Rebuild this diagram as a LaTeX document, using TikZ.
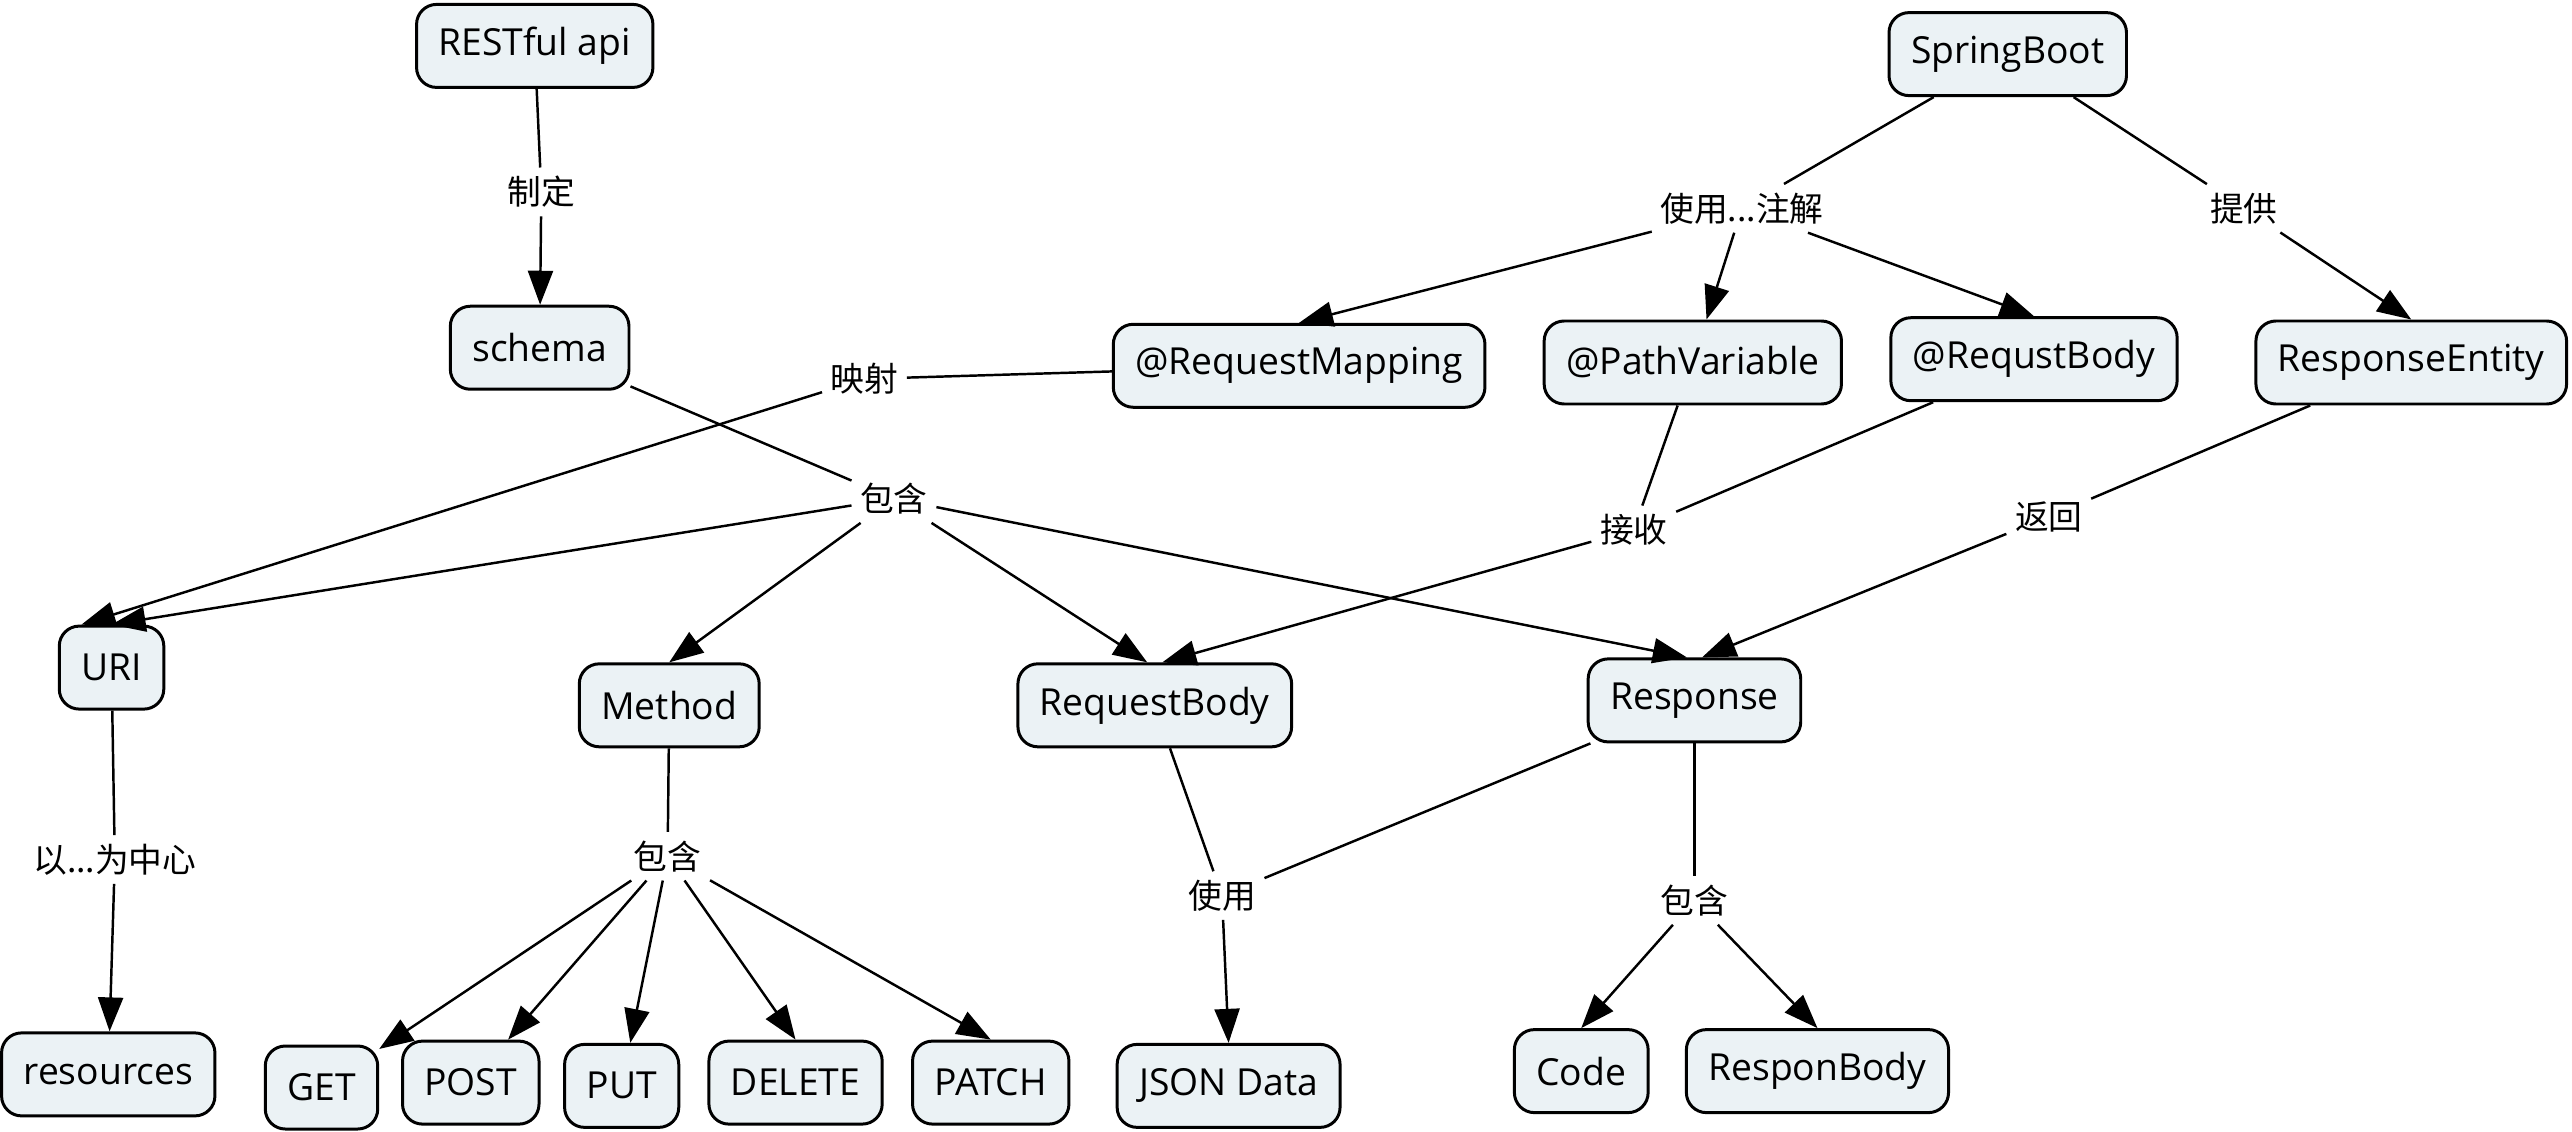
\documentclass[tikz,border=0pt]{standalone}
\usepackage{fontspec}
\setmainfont{Open Sans}
\newfontfamily\cjk{Noto Sans CJK SC}
\usetikzlibrary{arrows.meta}
\definecolor{conceptfill}{RGB}{235,242,245}

\begin{document}
\begin{tikzpicture}[x=0.0164cm, y=-0.0164cm,
    concept/.style={draw, line width=0.85pt, rounded corners=0.2cm, fill=conceptfill,
      minimum height=0.83cm, inner xsep=0.22cm, font=\fontsize{10.6}{12}\selectfont},
    phrase/.style={inner sep=0.08cm, font=\cjk\fontsize{9.6}{11}\selectfont},
    link/.style={line width=0.7pt},
    tolink/.style={line width=0.7pt, -{Triangle[length=0.34cm, width=0.25cm]}}]
  \useasboundingbox (0,0) rectangle (1568,690);

  % concepts
  \node[concept] (restful) at (326,28) {RESTful api};
  \node[concept] (schema) at (329,212) {schema};
  \node[concept] (spring) at (1224,33) {SpringBoot};
  \node[concept] (reqmap) at (792,223) {@RequestMapping};
  \node[concept] (pathvar) at (1032,221) {@PathVariable};
  \node[concept] (reqbodyann) at (1240,219) {@RequstBody};
  \node[concept] (entity) at (1470,221) {ResponseEntity};
  \node[concept] (uri) at (68,407) {URI};
  \node[concept] (method) at (408,430) {Method};
  \node[concept] (reqbody) at (704,430) {RequestBody};
  \node[concept] (response) at (1033,427) {Response};
  \node[concept] (resources) at (66,655) {resources};
  \node[concept] (get) at (196,663) {GET};
  \node[concept] (post) at (287,660) {POST};
  \node[concept] (put) at (379,662) {PUT};
  \node[concept] (delete) at (485,660) {DELETE};
  \node[concept] (patch) at (604,660) {PATCH};
  \node[concept] (json) at (749,662) {JSON Data};
  \node[concept] (code) at (964,653) {Code};
  \node[concept] (responbody) at (1108,653) {ResponBody};

  % linking phrases
  \node[phrase] (zhiding) at (330,117) {制定};
  \node[phrase] (shiyongzj) at (1062,127) {使用...注解};
  \node[phrase] (tigong) at (1368,127) {提供};
  \node[phrase] (yingshe) at (527,231) {映射};
  \node[phrase] (baohan) at (545,304) {包含};
  \node[phrase] (jieshou) at (996,323) {接收};
  \node[phrase] (fanhui) at (1249,315) {返回};
  \node[phrase] (zhongxin) at (70,524) {以...为中心};
  \node[phrase] (baohanm) at (407,522) {包含};
  \node[phrase] (shiyong) at (745,546) {使用};
  \node[phrase] (baohanr) at (1033,549) {包含};

  \draw[link] (restful) -- (zhiding);
  \draw[tolink] (zhiding) -- (schema);
  \draw[link] (spring) -- (shiyongzj);
  \draw[tolink] (shiyongzj) -- (reqmap.north);
  \draw[tolink] (shiyongzj) -- (pathvar);
  \draw[tolink] (shiyongzj) -- (reqbodyann.north);
  \draw[link] (spring) -- (tigong);
  \draw[tolink] (tigong) -- (entity.north);
  \draw[link] (reqmap) -- (yingshe);
  \draw[tolink] (yingshe) -- (uri.125);
  \draw[link] (schema) -- (baohan);
  \draw[tolink] (baohan) -- (uri.north);
  \draw[tolink] (baohan) -- (method.north);
  \draw[tolink] (baohan) -- (reqbody.100);
  \draw[tolink] (baohan) -- (response.100);
  \draw[link] (pathvar) -- (jieshou);
  \draw[link] (reqbodyann) -- (jieshou);
  \draw[tolink] (jieshou) -- (reqbody.80);
  \draw[link] (entity) -- (fanhui);
  \draw[tolink] (fanhui) -- (response.80);
  \draw[link] (uri) -- (zhongxin);
  \draw[tolink] (zhongxin) -- (resources);
  \draw[link] (method) -- (baohanm);
  \foreach \m in {get, post, put}
    \draw[tolink] (baohanm) -- (\m);
  \foreach \m in {delete, patch}
    \draw[tolink] (baohanm) -- (\m.north);
  \draw[link] (reqbody) -- (shiyong);
  \draw[link] (response) -- (shiyong);
  \draw[tolink] (shiyong) -- (json.north);
  \draw[link] (response) -- (baohanr);
  \draw[tolink] (baohanr) -- (code.north);
  \draw[tolink] (baohanr) -- (responbody.north);
\end{tikzpicture}
\end{document}
